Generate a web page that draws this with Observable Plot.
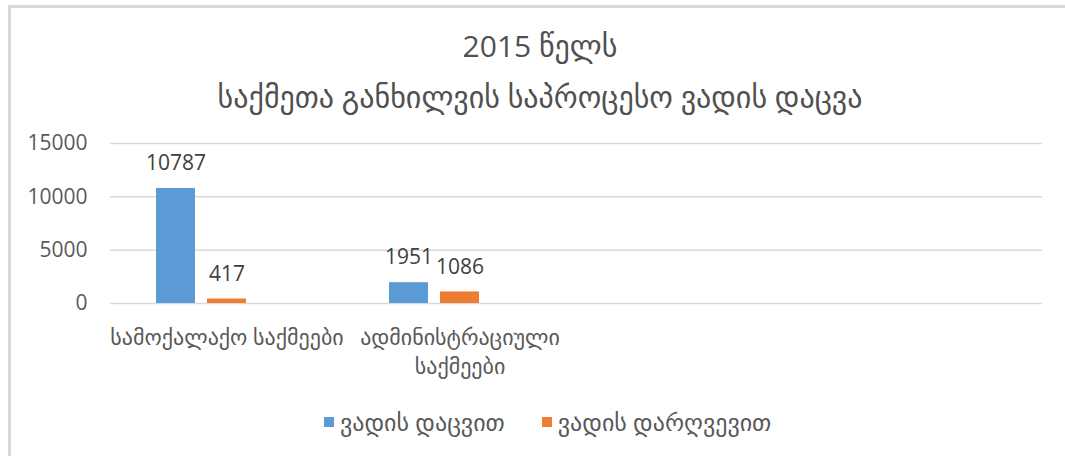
<!DOCTYPE html>
<html>
<head>
<meta charset="utf-8">
<script src="https://cdn.jsdelivr.net/npm/d3@7"></script>
<script src="https://cdn.jsdelivr.net/npm/@observablehq/plot@0.6"></script>
<style>
  html, body { margin: 0; padding: 0; background: #fff; overflow: hidden; }
  body { width: 1065px; height: 456px; position: relative; font-family: "Open Sans", "DejaVu Sans", sans-serif; color: #595959; }
  #frame { position: absolute; left: 8px; top: 5px; width: 1100px; height: 500px; border-left: 3px solid #d9d9d9; border-top: 3px solid #d9d9d9; box-sizing: border-box; }
  #title { position: absolute; left: 0; width: 1080px; top: 20px; text-align: center; font-size: 30px; line-height: 51px; color: #505050; }
  #chart { position: absolute; left: 0; top: 120px; }
  #legend { position: absolute; left: 324px; top: 405px; display: flex; align-items: center; font-size: 24px; color: #595959; white-space: nowrap; }
  .sw { width: 10px; height: 10px; display: inline-block; margin-right: 6px; }
  .item { display: flex; align-items: center; margin-right: 37px; }
</style>
</head>
<body>
<div id="frame"></div>
<div id="title"></div>
<div id="chart"></div>
<div id="legend"></div>
<script>
const titleLines = ["2015 წელს", "საქმეთა განხილვის საპროცესო ვადის დაცვა"];
const categories = ["სამოქალაქო საქმეები", "ადმინისტრაციული\nსაქმეები", "", ""];
const seriesNames = ["ვადის დაცვით", "ვადის დარღვევით", ""];
const seriesColors = ["#5b9bd5", "#ed7d31", "none"];
const withinTerm = [10787, 1951];
const beyondTerm = [417, 1086];
const yTicks = [0, 5000, 10000, 15000];

document.getElementById("title").innerHTML = titleLines.map(t => `<div>${t}</div>`).join("");

const data = [];
withinTerm.forEach((v, i) => data.push({cat: i, s: seriesNames[0], v}));
beyondTerm.forEach((v, i) => data.push({cat: i, s: seriesNames[1], v}));

const gridRows = [];
categories.forEach((c, i) => yTicks.forEach(y => gridRows.push({cat: i, y})));

const chart = Plot.plot({
  width: 1065,
  height: 270,
  marginLeft: 109,
  marginRight: 22,
  marginTop: 23,
  marginBottom: 87,
  style: {fontFamily: '"Open Sans", "DejaVu Sans", sans-serif', background: "transparent"},
  fx: {domain: [0, 1, 2, 3], paddingInner: 0, paddingOuter: 0, axis: null},
  x: {domain: seriesNames, paddingInner: 0.2308, paddingOuter: 0.8606, axis: null},
  y: {domain: [0, 15000], axis: null},
  color: {domain: seriesNames, range: seriesColors},
  marks: [
    Plot.ruleY(gridRows, {fx: "cat", y: "y", stroke: "#d9d9d9", strokeOpacity: 1, strokeWidth: 1.5}),
    Plot.axisY(yTicks, {tickSize: 0, tickPadding: 23, fontSize: 21, fill: "#595959", label: null, tickFormat: d => String(d)}),
    Plot.axisFx({anchor: "bottom", tickSize: 0, tickPadding: 21, fontSize: 22, fill: "#595959", label: null, lineHeight: 1.32,
                 tickFormat: i => categories[i] ?? ""}),
    Plot.barY(data, {fx: "cat", x: "s", y: "v", fill: "s"}),
    Plot.text(data, {fx: "cat", x: "s", y: "v", text: d => String(d.v), dy: -25, fontSize: 21, fill: "#404040"})
  ]
});
document.getElementById("chart").appendChild(chart);

document.getElementById("legend").innerHTML = seriesNames.slice(0, 2).map((n, i) =>
  `<div class="item"><span class="sw" style="background:${seriesColors[i]}"></span><span>${n}</span></div>`).join("");
</script>
</body>
</html>
